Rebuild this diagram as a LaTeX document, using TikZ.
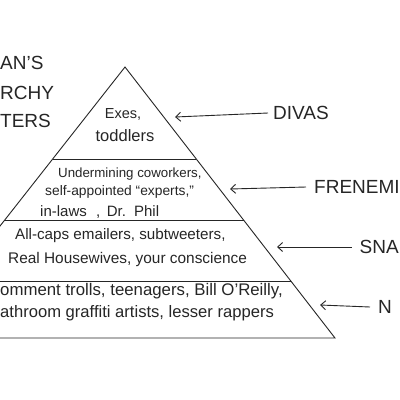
\documentclass[tikz,border=0pt]{standalone}
\usepackage{fontspec}
\setmainfont{Liberation Sans}
\usetikzlibrary{arrows.meta,calc}
\newcommand{\fs}[1]{\fontsize{#1}{#1}\selectfont}
\tikzset{
  ink/.style={line width=0.9pt, draw=black!85},
  band/.style={text=black!85, inner sep=0pt, align=center},
  tier/.style={font=\fontsize{19}{21}\selectfont, text=black!85, inner sep=0pt, anchor=west},
  ttl/.style={font=\fontsize{19}{21}\selectfont, text=black!85, inner sep=0pt, anchor=west},
  pointer/.style={ink, -{Straight Barb[length=5pt,width=9pt]}}
}
\begin{document}
\begin{tikzpicture}[x=1pt,y=-1pt]
\useasboundingbox (0,0) rectangle (400,400);
\clip (0,0) rectangle (400,400);
\fill[white] (0,0) rectangle (400,400);
% pyramid
\coordinate (apex) at (125,67);
\coordinate (bl) at (-88,338);
\coordinate (br) at (335,338);
\draw[ink] (bl) -- (apex) -- (br) -- cycle;
\draw[ink] ($(apex)!0.3395!(bl)$) coordinate (d1l) -- ($(apex)!0.3395!(br)$) coordinate (d1r);
\draw[ink] ($(apex)!0.568!(bl)$) coordinate (d2l) -- ($(apex)!0.568!(br)$) coordinate (d2r);
\draw[ink] ($(apex)!0.7897!(bl)$) coordinate (d3l) -- ($(apex)!0.7897!(br)$) coordinate (d3r);
% title (cut at the left edge)
\node[ttl] (t1) at (0,63) {AN’S};
\node[ttl] (t2) at (0,93) {RCHY};
\node[ttl] (t3) at (0,121) {TERS};
% band texts
\node[band, font=\fs{14.5}] (b1a) at (123,114) {Exes,};
\node[band, font=\fs{16.5}] (b1b) at (125,136) {toddlers};
\node[band, font=\fs{13.3}, anchor=west] (b2a) at (58,174) {Undermining coworkers,};
\node[band, font=\fs{13.8}, anchor=west] (b2b) at (45,192) {self-appointed “experts,”};
\node[band, font=\fs{15}, anchor=west] (b2c) at (40,212) {in-laws\,\, , \,Dr. \,Phil};
\node[band, font=\fs{15.2}, anchor=west] (b3a) at (15,236) {All-caps emailers, subtweeters,};
\node[band, font=\fs{15.4}, anchor=west] (b3b) at (8,260) {Real Housewives, your conscience};
\node[band, font=\fs{16.8}, anchor=west] (b4a) at (0,291) {omment trolls, teenagers, Bill O’Reilly,};
\node[band, font=\fs{16.6}, anchor=west] (b4b) at (0,313) {athroom graffiti artists, lesser rappers};
% tier labels
\node[tier] (divas) at (273,113) {DIVAS};
\node[tier] (fren) at (314,187) {FRENEMI};
\node[tier, anchor=east] (snak) at (399,247) {SNA};
\node[tier] (nlab) at (378,307) {N};
% arrow tips
\coordinate (p1) at (175,117);
\coordinate (p2) at (230,189);
\coordinate (p3) at (277,247);
\coordinate (p4) at (320,305);
\draw[pointer] ([xshift=-5pt]divas.west) -- (p1);
\draw[pointer] ([xshift=-8pt]fren.west) -- (p2);
\draw[pointer] ([xshift=-8pt]snak.west) -- (p3);
\draw[pointer] ([xshift=-8pt]nlab.west) -- (p4);
\end{tikzpicture}
\end{document}
